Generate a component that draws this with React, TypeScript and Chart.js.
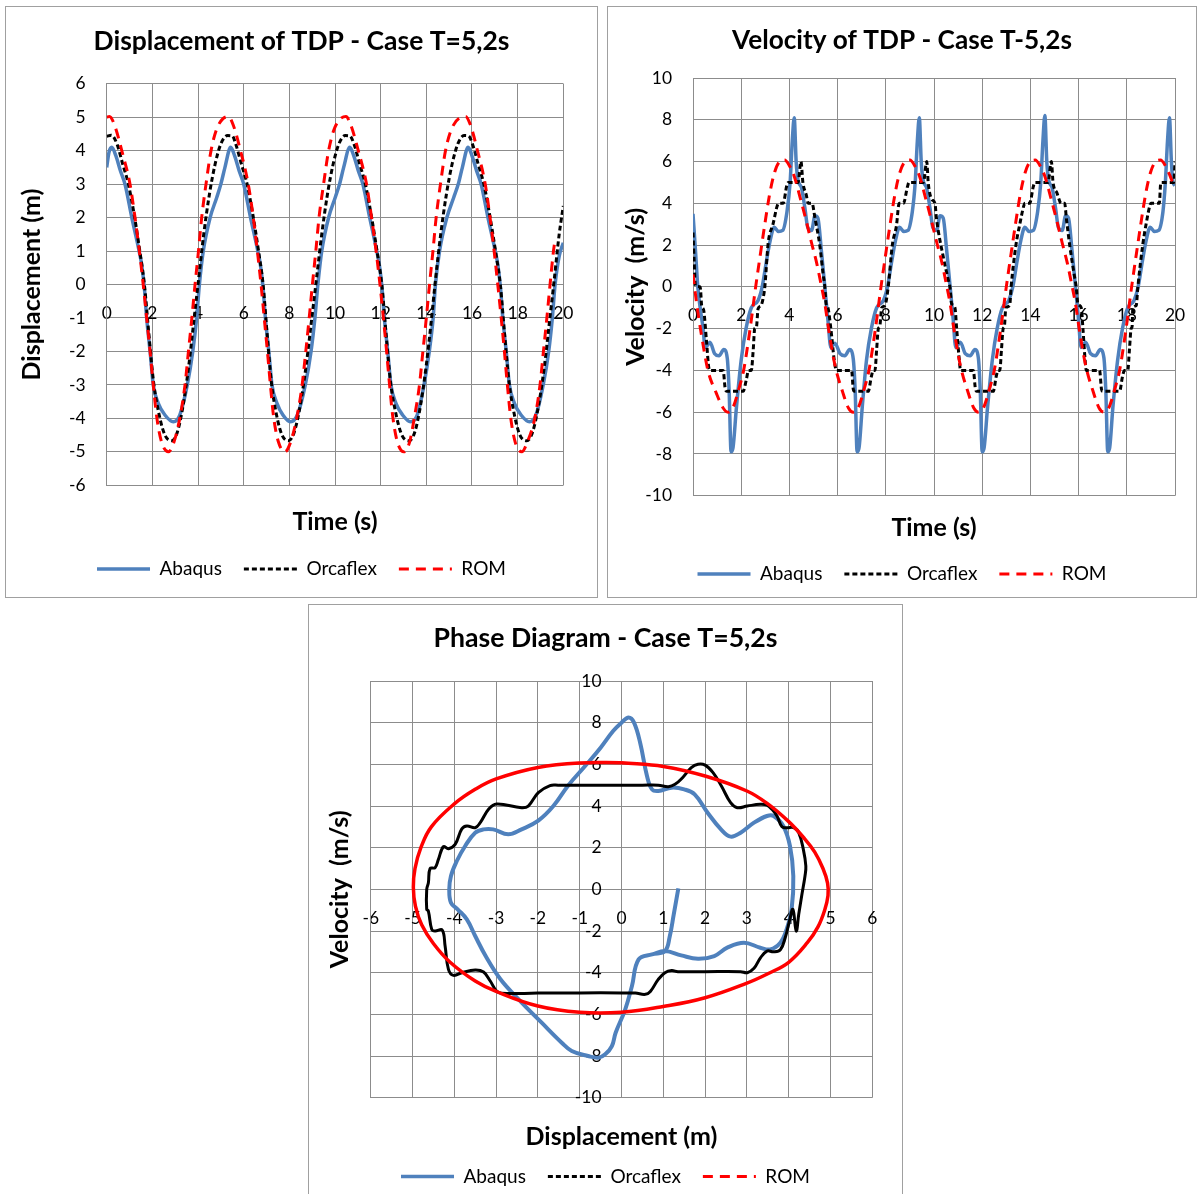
import React, { useEffect, useRef } from "react";
import { Chart, registerables } from "chart.js";

Chart.register(...registerables);

type Pt = [number, number];

// ---------------- tick labels / categories ----------------
const TIME_TICKS = [0, 2, 4, 6, 8, 10, 12, 14, 16, 18, 20];
const DISP_TICKS = [-6, -5, -4, -3, -2, -1, 0, 1, 2, 3, 4, 5, 6];
const VEL_TICKS = [-10, -8, -6, -4, -2, 0, 2, 4, 6, 8, 10];
const PHASE_DISP_TICKS = [-6, -5, -4, -3, -2, -1, 0, 1, 2, 3, 4, 5, 6];
const SERIES = ["Abaqus", "Orcaflex", "ROM"];

// ---------------- displacement of TDP (time s, displacement m) ----------------
const ABAQUS_DISP: Pt[] = [
  [0, 3.5], [0.1, 3.95], [0.22, 4.1], [0.4, 3.85], [0.6, 3.4], [0.8, 3.0], [1.1, 2.0], [1.42, 1.0], [1.53, 0.6],
  [1.65, -0.1], [1.75, -1.0], [1.9, -2.0], [2.04, -3.0], [2.26, -3.55], [2.55, -3.9], [2.92, -4.1], [3.2, -3.9],
  [3.53, -3.0], [3.77, -2.0], [3.94, -1.0], [4.06, 0.0], [4.23, 1.0], [4.53, 2.0], [4.82, 2.6], [5.0, 3.0],
  [5.18, 3.5], [5.43, 4.1],
  [5.6, 3.85], [5.8, 3.4], [6.0, 3.0], [6.3, 2.0], [6.62, 1.0], [6.73, 0.6], [6.85, -0.1], [6.95, -1.0],
  [7.1, -2.0], [7.24, -3.0], [7.46, -3.55], [7.72, -3.9], [8.05, -4.1], [8.35, -3.9], [8.7, -3.0], [8.95, -2.0],
  [9.12, -1.0], [9.25, 0.0], [9.42, 1.0], [9.72, 2.0], [10.01, 2.6], [10.2, 3.0], [10.38, 3.5], [10.65, 4.1],
  [10.82, 3.85], [11.02, 3.4], [11.22, 3.0], [11.52, 2.0], [11.83, 1.0], [11.94, 0.6], [12.06, -0.1], [12.16, -1.0],
  [12.31, -2.0], [12.45, -3.0], [12.67, -3.55], [12.96, -3.9], [13.31, -4.1], [13.6, -3.9], [13.9, -3.0],
  [14.13, -2.0], [14.3, -1.0], [14.4, 0.0], [14.58, 1.0], [14.9, 2.0], [15.2, 2.6], [15.4, 3.0], [15.58, 3.5],
  [15.83, 4.1],
  [16.0, 3.85], [16.2, 3.4], [16.4, 3.0], [16.7, 2.0], [17.02, 1.0], [17.13, 0.6], [17.25, -0.1], [17.35, -1.0],
  [17.5, -2.0], [17.64, -3.0], [17.86, -3.55], [18.15, -3.9], [18.52, -4.1], [18.8, -3.9], [19.12, -3.0],
  [19.36, -2.0], [19.52, -1.0], [19.64, 0.0], [19.82, 0.85], [20.0, 1.25],
];

const ORCAFLEX_DISP: Pt[] = [
  [0, 4.43], [0.2, 4.46], [0.45, 4.2], [0.7, 3.6], [0.95, 3.0], [1.2, 2.1], [1.45, 1.0], [1.65, 0.0], [1.85, -1.5],
  [2.05, -2.9], [2.3, -3.9], [2.55, -4.5], [2.85, -4.67], [3.1, -4.4], [3.35, -3.6], [3.6, -2.4], [3.8, -1.2],
  [4.0, 0.0], [4.25, 1.5], [4.5, 2.7], [4.75, 3.6], [5.0, 4.2], [5.3, 4.45], [5.5, 4.44],
  [5.65, 4.2], [5.9, 3.6], [6.15, 3.0], [6.4, 2.1], [6.65, 1.0], [6.85, 0.0], [7.03, -1.5], [7.21, -2.9],
  [7.44, -3.9], [7.68, -4.5], [7.96, -4.67], [8.22, -4.4], [8.48, -3.6], [8.74, -2.4], [8.95, -1.2], [9.16, 0.0],
  [9.42, 1.5], [9.67, 2.7], [9.92, 3.6], [10.17, 4.2], [10.45, 4.45], [10.65, 4.44],
  [10.83, 4.2], [11.08, 3.6], [11.33, 3.0], [11.58, 2.1], [11.84, 1.0], [12.05, 0.0], [12.24, -1.5], [12.43, -2.9],
  [12.68, -3.9], [12.93, -4.5], [13.24, -4.67], [13.5, -4.4], [13.75, -3.6], [14.0, -2.4], [14.2, -1.2],
  [14.38, 0.0], [14.63, 1.5], [14.88, 2.7], [15.13, 3.6], [15.38, 4.2], [15.65, 4.45], [15.85, 4.44],
  [16.02, 4.2], [16.27, 3.6], [16.52, 3.0], [16.77, 2.1], [17.03, 1.0], [17.24, 0.0], [17.43, -1.5], [17.62, -2.9],
  [17.86, -3.9], [18.1, -4.5], [18.4, -4.67], [18.66, -4.4], [18.92, -3.6], [19.18, -2.4], [19.38, -1.2],
  [19.58, 0.0], [19.82, 1.5], [20.0, 2.35],
];

const ROM_DISP: Pt[] = [
  [0, 5.0], [0.12, 5.02], [0.35, 4.75], [0.66, 4.0], [1.02, 3.0], [1.24, 2.0], [1.43, 1.0], [1.6, 0.0], [1.75, -1.0],
  [1.9, -2.0], [2.04, -3.0], [2.2, -4.0], [2.4, -4.7], [2.7, -5.0], [2.95, -4.7], [3.2, -4.0], [3.43, -3.0],
  [3.58, -2.0], [3.73, -1.0], [3.87, 0.0], [4.02, 1.0], [4.16, 2.0], [4.35, 3.0], [4.57, 4.0], [4.85, 4.7],
  [5.33, 5.02],
  [5.55, 4.75], [5.86, 4.0], [6.2, 3.0], [6.42, 2.0], [6.6, 1.0], [6.76, 0.0], [6.9, -1.0], [7.04, -2.0],
  [7.17, -3.0], [7.32, -4.0], [7.52, -4.7], [7.81, -5.0], [8.06, -4.7], [8.32, -4.0], [8.56, -3.0], [8.72, -2.0],
  [8.87, -1.0], [9.01, 0.0], [9.16, 1.0], [9.3, 2.0], [9.5, 3.0], [9.72, 4.0], [10.0, 4.7], [10.48, 5.02],
  [10.7, 4.75], [11.02, 4.0], [11.38, 3.0], [11.6, 2.0], [11.8, 1.0], [11.97, 0.0], [12.12, -1.0], [12.26, -2.0],
  [12.39, -3.0], [12.54, -4.0], [12.73, -4.7], [13.02, -5.0], [13.27, -4.7], [13.47, -4.0], [13.7, -3.0],
  [13.85, -2.0], [14.0, -1.0], [14.14, 0.0], [14.29, 1.0], [14.43, 2.0], [14.62, 3.0], [14.84, 4.0], [15.14, 4.7],
  [15.72, 5.02],
  [15.94, 4.75], [16.24, 4.0], [16.58, 3.0], [16.79, 2.0], [16.97, 1.0], [17.13, 0.0], [17.28, -1.0], [17.42, -2.0],
  [17.55, -3.0], [17.7, -4.0], [17.89, -4.7], [18.18, -5.0], [18.43, -4.7], [18.75, -4.0], [18.98, -3.0],
  [19.13, -2.0], [19.28, -1.0], [19.42, 0.0], [19.57, 1.0], [19.62, 1.25],
];

// ---------------- velocity of TDP (time s, velocity m/s) ----------------
const ABAQUS_VEL: Pt[] = [
  [0, 3.5], [0.1, 1.8], [0.2, 0.0], [0.32, -1.2], [0.42, -2.0], [0.5, -2.9], [0.6, -2.8], [0.7, -2.65], [0.9, -3.2],
  [1.08, -3.3], [1.28, -3.0], [1.42, -3.4], [1.5, -5.0], [1.58, -7.9], [1.66, -7.7], [1.8, -5.8], [2.0, -3.5],
  [2.2, -2.0], [2.42, -1.0], [2.7, -0.65], [2.87, 0.0], [3.05, 1.25], [3.2, 2.2], [3.37, 2.85], [3.55, 2.65],
  [3.72, 2.7], [3.9, 3.6], [4.03, 5.0], [4.12, 7.0], [4.2, 8.1], [4.28, 6.0], [4.36, 5.1], [4.5, 4.75],
  [4.64, 3.8], [4.76, 2.85], [4.92, 2.7], [5.06, 3.4], [5.18, 3.3], [5.33, 1.7], [5.47, 0.0], [5.6, -1.6],
  [5.72, -2.9], [5.89, -2.7], [6.1, -3.2], [6.3, -3.3], [6.5, -3.0], [6.65, -3.45], [6.73, -5.0], [6.81, -7.9],
  [6.89, -7.7], [7.02, -5.8], [7.2, -3.5], [7.4, -2.0], [7.62, -1.0], [7.9, -0.65], [8.07, 0.0], [8.25, 1.25],
  [8.4, 2.2], [8.57, 2.85], [8.75, 2.65], [8.92, 2.7], [9.1, 3.6], [9.22, 5.0], [9.31, 7.0], [9.39, 8.1],
  [9.47, 6.0], [9.55, 5.1], [9.69, 4.75], [9.83, 3.8], [9.95, 2.85], [10.11, 2.7], [10.25, 3.4], [10.38, 3.3],
  [10.53, 1.7], [10.67, 0.0], [10.8, -1.6], [10.9, -2.9], [11.09, -2.65], [11.3, -3.2], [11.5, -3.3], [11.7, -3.0],
  [11.84, -3.4], [11.92, -5.0], [12.0, -7.9], [12.08, -7.7], [12.22, -5.8], [12.42, -3.5], [12.62, -2.0],
  [12.84, -1.0], [13.1, -0.65], [13.27, 0.0], [13.45, 1.25], [13.6, 2.2], [13.77, 2.85], [13.95, 2.65],
  [14.12, 2.7], [14.3, 3.6], [14.43, 5.0], [14.52, 7.0], [14.6, 8.2], [14.68, 6.0], [14.76, 5.1], [14.9, 4.75],
  [15.04, 3.8], [15.16, 2.85], [15.32, 2.7], [15.46, 3.4], [15.58, 3.3], [15.73, 1.7], [15.87, 0.0], [16.0, -1.6],
  [16.1, -2.9], [16.29, -2.65], [16.5, -3.2], [16.7, -3.3], [16.9, -3.0], [17.05, -3.4], [17.13, -5.0],
  [17.21, -7.9], [17.29, -7.7], [17.42, -5.8], [17.62, -3.5], [17.82, -2.0], [18.04, -1.0], [18.3, -0.65],
  [18.47, 0.0], [18.65, 1.25], [18.8, 2.2], [18.97, 2.85], [19.15, 2.65], [19.32, 2.7], [19.5, 3.6], [19.6, 5.0],
  [19.69, 7.0], [19.77, 8.1], [19.85, 6.0], [19.92, 5.0], [20.0, 4.85],
];

const ORCAFLEX_VEL: Pt[] = [
  [0, 2.6], [0.05, 1.2], [0.1, 0.05], [0.3, 0.0], [0.36, -0.9], [0.44, -1.1], [0.56, -2.6], [0.66, -3.9],
  [0.72, -4.0], [1.25, -4.0], [1.34, -4.9], [1.4, -5.0], [2.08, -5.0], [2.22, -4.4], [2.3, -4.0], [2.42, -4.0],
  [2.5, -3.0], [2.56, -2.0], [2.63, -1.95], [2.7, -1.05], [2.82, -0.9], [2.9, -0.6], [2.98, 0.0], [3.12, 2.1],
  [3.32, 3.0], [3.5, 3.9], [3.56, 4.0], [3.74, 4.0], [3.9, 4.9], [3.96, 5.0], [4.36, 5.0], [4.48, 6.0],
  [4.56, 5.0], [4.7, 4.4], [4.78, 4.0], [4.94, 4.0], [5.06, 3.3], [5.26, 2.0], [5.4, 0.6], [5.47, 0.0],
  [5.52, -0.8], [5.6, -1.0], [5.72, -2.0], [5.86, -3.5], [5.95, -4.0], [6.58, -4.0], [6.65, -4.9], [6.7, -5.0],
  [7.27, -5.0], [7.4, -4.3], [7.48, -4.0], [7.55, -4.0], [7.62, -3.0], [7.69, -2.0], [7.75, -1.9], [7.83, -1.0],
  [7.96, -0.9], [8.1, 0.0], [8.27, 2.0], [8.45, 3.0], [8.53, 3.9], [8.57, 4.0], [8.73, 4.0], [8.9, 4.8],
  [8.96, 5.0], [9.56, 5.0], [9.7, 6.0], [9.76, 5.0], [9.9, 4.2], [10.04, 4.0], [10.1, 3.3], [10.39, 1.4],
  [10.6, 0.3], [10.66, 0.0], [10.73, -0.8], [10.87, -1.0], [10.94, -2.0], [11.05, -3.5], [11.1, -4.0],
  [11.63, -4.0], [11.72, -4.9], [11.77, -5.0], [12.46, -5.0], [12.58, -4.3], [12.66, -4.0], [12.73, -4.0],
  [12.8, -3.0], [12.87, -2.0], [12.92, -1.9], [12.98, -1.0], [13.14, -0.9], [13.2, 0.0], [13.4, 2.0],
  [13.56, 3.0], [13.73, 3.9], [13.77, 4.0], [13.97, 4.0], [14.12, 4.8], [14.18, 5.0], [14.73, 5.0], [14.87, 6.0],
  [14.94, 5.0], [15.1, 4.5], [15.28, 4.0], [15.42, 4.0], [15.5, 3.2], [15.63, 2.0], [15.8, 0.7], [15.9, 0.0],
  [15.97, -0.8], [16.11, -1.0], [16.18, -2.0], [16.27, -3.5], [16.32, -4.0], [16.87, -4.0], [16.95, -4.9],
  [17.0, -5.0], [17.7, -5.0], [17.82, -4.3], [17.9, -4.0], [18.04, -4.0], [18.11, -3.0], [18.18, -2.0],
  [18.22, -1.9], [18.25, -1.0], [18.39, -0.9], [18.46, 0.0], [18.66, 2.0], [18.8, 3.0], [18.96, 3.9], [19.0, 4.0],
  [19.35, 4.0], [19.4, 4.9], [19.42, 5.0], [19.95, 5.0], [20.0, 6.0],
];

const ROM_VEL: Pt[] = [
  [0, 0.6], [0.14, -0.7], [0.35, -2.3], [0.62, -4.0], [0.97, -5.1], [1.25, -5.8], [1.45, -6.0], [1.65, -5.8],
  [1.9, -4.9], [2.1, -4.0], [2.37, -2.0], [2.6, 0.0], [2.8, 1.6], [2.98, 3.0], [3.19, 4.5], [3.39, 5.5],
  [3.6, 6.0], [3.8, 6.07], [4.0, 5.8], [4.2, 5.3], [4.44, 4.3], [4.72, 3.05], [4.92, 2.1], [5.13, 1.15],
  [5.3, 0.2], [5.47, -0.8], [5.65, -2.2], [5.9, -3.8], [6.2, -5.0], [6.45, -5.8], [6.65, -6.0], [6.85, -5.8],
  [7.1, -4.9], [7.3, -4.0], [7.57, -2.0], [7.8, 0.0], [8.0, 1.6], [8.18, 3.0], [8.39, 4.5], [8.59, 5.5],
  [8.8, 6.0], [9.0, 6.07], [9.2, 5.8], [9.4, 5.3], [9.64, 4.3], [9.92, 3.05], [10.12, 2.1], [10.33, 1.15],
  [10.5, 0.2], [10.67, -0.8], [10.85, -2.2], [11.1, -3.8], [11.4, -5.0], [11.65, -5.8], [11.85, -6.0],
  [12.05, -5.8], [12.3, -4.9], [12.5, -4.0], [12.77, -2.0], [13.0, 0.0], [13.2, 1.6], [13.38, 3.0], [13.59, 4.5],
  [13.79, 5.5], [14.0, 6.0], [14.2, 6.07], [14.4, 5.8], [14.6, 5.3], [14.84, 4.3], [15.12, 3.05], [15.32, 2.1],
  [15.53, 1.15], [15.7, 0.2], [15.87, -0.8], [16.05, -2.2], [16.3, -3.8], [16.6, -5.0], [16.85, -5.8],
  [17.05, -6.0], [17.25, -5.8], [17.5, -4.9], [17.7, -4.0], [17.97, -2.0], [18.2, 0.0], [18.4, 1.6], [18.58, 3.0],
  [18.79, 4.5], [18.99, 5.5], [19.2, 6.0], [19.4, 6.07], [19.6, 5.8], [19.8, 5.3], [19.9, 5.0],
];

// ---------------- phase diagram (displacement m, velocity m/s) ----------------
const ABAQUS_PHASE: Pt[] = [
  [1.36, 0.05], [1.25, -1.2], [1.15, -2.3], [1.04, -2.96], [0.73, -3.12], [0.41, -3.36], [0.25, -4.64],
  [0.09, -5.76], [-0.14, -6.88], [-0.23, -7.52], [-0.39, -7.92], [-0.55, -8.08], [-0.8, -8.0], [-1.19, -7.76],
  [-1.43, -7.36], [-1.91, -6.4], [-2.45, -5.3], [-2.9, -4.3], [-3.25, -3.2], [-3.5, -2.24], [-3.7, -1.44],
  [-3.92, -0.96], [-4.08, -0.64], [-4.12, 0.0], [-4.08, 0.64], [-3.94, 1.36], [-3.74, 2.08], [-3.5, 2.72],
  [-3.3, 2.88], [-3.07, 2.88], [-2.71, 2.64], [-2.39, 2.88], [-1.99, 3.3], [-1.63, 4.0], [-1.27, 5.0],
  [-0.87, 5.92], [-0.5, 6.8], [-0.2, 7.6], [0.0, 8.0], [0.17, 8.25], [0.3, 8.0], [0.45, 7.0], [0.61, 5.44],
  [0.73, 4.8], [0.88, 4.72], [1.2, 4.88], [1.5, 4.8], [1.75, 4.56], [2.06, 3.68], [2.38, 2.88], [2.61, 2.53],
  [2.85, 2.72], [3.17, 3.2], [3.48, 3.52], [3.64, 3.52], [3.87, 3.04], [4.03, 2.08], [4.11, 0.64], [4.07, -0.96],
  [3.95, -1.92], [3.8, -2.56], [3.56, -2.88], [3.32, -2.8], [2.93, -2.56], [2.53, -2.8], [2.22, -3.2],
  [1.83, -3.33], [1.43, -3.17], [1.04, -2.96], [0.73, -3.12],
];

const ORCAFLEX_PHASE: Pt[] = [
  [-1.5, 5.0], [-0.5, 5.0], [0.5, 5.0], [0.88, 5.0], [1.12, 4.93], [1.28, 5.04], [1.46, 5.36], [1.67, 5.84],
  [1.83, 6.0], [2.0, 5.96], [2.19, 5.6], [2.39, 4.96], [2.61, 4.16], [2.77, 3.92], [3.01, 4.0], [3.32, 4.08],
  [3.48, 4.04], [3.6, 3.84], [3.72, 3.52], [3.84, 3.0], [3.96, 2.96], [4.12, 2.96], [4.24, 2.72], [4.35, 1.92],
  [4.41, 1.12], [4.39, 0.64], [4.31, -0.32], [4.24, -1.2], [4.18, -2.0], [4.1, -0.96], [4.02, -1.5],
  [3.92, -2.3], [3.8, -2.9], [3.64, -3.0], [3.48, -2.96], [3.32, -3.3], [3.17, -3.79], [3.01, -4.0],
  [2.85, -3.95], [2.0, -3.95], [1.35, -3.95], [1.2, -3.9], [1.04, -4.0], [0.88, -4.32], [0.69, -4.9],
  [0.57, -5.04], [0.33, -4.98], [0.0, -4.97], [-1.0, -4.97], [-2.0, -4.98], [-2.87, -4.99], [-2.99, -4.88],
  [-3.14, -4.4], [-3.3, -3.97], [-3.5, -3.87], [-3.82, -4.0], [-4.02, -4.13], [-4.14, -3.84], [-4.22, -2.72],
  [-4.29, -1.95], [-4.46, -2.0], [-4.54, -1.92], [-4.62, -1.04], [-4.66, -0.96], [-4.66, 0.0], [-4.62, 0.32],
  [-4.58, 1.0], [-4.46, 1.04], [-4.38, 1.44], [-4.26, 2.05], [-4.14, 1.95], [-3.98, 2.16], [-3.82, 2.9],
  [-3.7, 3.04], [-3.5, 2.96], [-3.38, 3.2], [-3.18, 3.84], [-2.99, 4.1], [-2.39, 3.92], [-2.23, 4.0],
  [-1.99, 4.64], [-1.71, 4.98], [-1.5, 5.0],
];

const ROM_PHASE: Pt[] = [
  [0.0, 6.08], [1.0, 5.9], [2.0, 5.44], [3.0, 4.72], [3.5, 4.1], [4.0, 3.25], [4.35, 2.5], [4.62, 1.8],
  [4.82, 1.0], [4.93, 0.3], [4.94, -0.3], [4.86, -1.0], [4.7, -1.8], [4.45, -2.55], [4.0, -3.5], [3.5, -4.05],
  [3.0, -4.5], [2.0, -5.2], [1.0, -5.62], [0.0, -5.9], [-1.0, -5.9], [-2.0, -5.6], [-3.0, -4.9], [-3.5, -4.4],
  [-4.1, -3.5], [-4.5, -2.6], [-4.78, -1.7], [-4.93, -0.8], [-4.98, 0.1], [-4.94, 1.0], [-4.8, 2.0],
  [-4.55, 3.0], [-4.0, 4.1], [-3.5, 4.8], [-3.0, 5.3], [-2.0, 5.85], [-1.0, 6.07], [0.0, 6.08],
];

// ---------------- styles ----------------
const FONT = "Lato, 'Open Sans', 'DejaVu Sans', sans-serif";
const BLUE = "#4f81bd";
const RED = "#ff0000";
const BLACK = "#000000";
const GRID = "#8c8c8c";
const PANEL_BORDER = "#a0a0a0";
const LEG_PAD = 22;

Chart.defaults.font.family = FONT;

interface Geo {
  W: number; H: number; l: number; r: number; t: number; b: number;
  titleY: number; xTitleY: number; legendY: number; yTitleX: number;
}
interface Box { left: number; top: number; w: number; h: number; }

function textW(text: string, bold: boolean): number {
  const c = document.createElement("canvas").getContext("2d")!;
  c.font = `${bold ? "bold " : ""}100px ${FONT}`;
  return c.measureText(text).width / 100;
}

function fonts(title: string, titleWidth: number) {
  return {
    title: titleWidth / textW(title, true),
    axis: 192 / textW("Displacement (m)", true),
    tick: 26.7 / textW("-10", false),
    legend: 70.5 / textW("Orcaflex", false),
  };
}

const toXY = (pts: Pt[]) => pts.map(([x, y]) => ({ x, y }));

interface Spec {
  geo: Geo; title: string; titleWidth: number; xTitle: string; yTitle: string;
  xRange: [number, number]; xTicks: number[]; yRange: [number, number]; yTicks: number[];
  data: [Pt[], Pt[], Pt[]]; phase: boolean;
}

function makeChart(canvas: HTMLCanvasElement, spec: Spec): Chart {
  const g = spec.geo;
  const f = fonts(spec.title, spec.titleWidth);
  const titleLH = f.title * 1.2;
  const axisLH = f.axis * 1.2;
  const legendTop = g.legendY - LEG_PAD - f.legend / 2;
  const legendH = f.legend + LEG_PAD + 10;
  const padBottom = g.H - legendTop - legendH;
  const xTickPad = 29 - f.tick * 0.6;
  const zeroPad = (s: any) => { s.paddingLeft = 0; s.paddingRight = 0; s.paddingTop = 0; s.paddingBottom = 0; };
  const setTicks = (vals: number[]) => (s: any) => { s.ticks = vals.map((v) => ({ value: v })); };
  const tickFont = { family: FONT, size: f.tick };
  const axisFont = { family: FONT, size: f.axis, weight: "bold" as const };
  const grid = { color: GRID, lineWidth: 1, drawTicks: false };
  const border = { color: GRID, width: 1 };

  const widths = spec.phase ? [4, 3, 3.5] : [3.5, 3, 3];
  const dashes = [[], [5, 3], [10, 7]];
  const colors = [BLUE, BLACK, RED];
  const datasets = spec.data.map((pts, i) => ({
    label: SERIES[i],
    data: toXY(pts),
    showLine: true,
    borderColor: colors[i],
    backgroundColor: colors[i],
    borderWidth: widths[i],
    borderDash: spec.phase ? [] : dashes[i],
    pointRadius: 0,
    pointHoverRadius: 0,
    fill: false,
    order: 3 - i,
    ...(spec.phase ? { tension: 0.4 } : { cubicInterpolationMode: "monotone" as const }),
  }));

  const phaseYLabels = {
    id: "phaseYLabels",
    beforeDatasetsDraw(chart: any) {
      if (!spec.phase) return;
      const { ctx, scales } = chart;
      const x0 = scales.x.getPixelForValue(0) - 20;
      ctx.save();
      ctx.font = `${f.tick}px ${FONT}`;
      ctx.fillStyle = "#000";
      ctx.textAlign = "right";
      ctx.textBaseline = "middle";
      for (const v of spec.yTicks) ctx.fillText(String(v), x0, scales.y.getPixelForValue(v));
      ctx.restore();
    },
  };

  return new Chart(canvas, {
    type: "scatter",
    data: { datasets: datasets as any },
    plugins: [phaseYLabels],
    options: {
      responsive: false,
      animation: false,
      devicePixelRatio: 1,
      events: [],
      layout: { padding: { top: 0, left: 0, right: 0, bottom: padBottom } },
      scales: {
        x: {
          type: "linear", min: spec.xRange[0], max: spec.xRange[1], position: { y: 0 } as any,
          afterBuildTicks: setTicks(spec.xTicks), afterFit: zeroPad,
          grid, border,
          ticks: { font: tickFont, color: "#000", padding: xTickPad, autoSkip: false, maxRotation: 0, callback: (v: any) => String(v) },
        },
        y: {
          type: "linear", min: spec.yRange[0], max: spec.yRange[1], position: "left",
          afterBuildTicks: setTicks(spec.yTicks),
          afterFit: (s: any) => { zeroPad(s); s.width = g.l; },
          grid, border,
          ticks: { display: !spec.phase, font: tickFont, color: "#000", padding: 21, autoSkip: false, callback: (v: any) => String(v) },
          title: { display: true, text: spec.yTitle, color: "#000", font: axisFont, padding: { top: g.yTitleX - axisLH / 2, bottom: 0 } },
        },
        xB: {
          type: "linear", min: 0, max: 1, position: "bottom",
          grid: { display: false, drawTicks: false }, border: { display: false }, ticks: { display: false },
          afterFit: (s: any) => { zeroPad(s); s.height = legendTop - g.b; },
          title: { display: true, text: spec.xTitle, color: "#000", font: axisFont, padding: { top: 0, bottom: legendTop - g.xTitleY - axisLH / 2 } },
        },
        yR: {
          type: "linear", min: 0, max: 1, position: "right",
          grid: { display: false, drawTicks: false }, border: { display: false }, ticks: { display: false },
          afterFit: (s: any) => { zeroPad(s); s.width = g.W - g.r; },
        },
      } as any,
      plugins: {
        tooltip: { enabled: false },
        title: {
          display: true, text: spec.title, color: "#000",
          font: { family: FONT, size: f.title, weight: "bold" },
          padding: { top: g.titleY - titleLH / 2, bottom: g.t - g.titleY - titleLH / 2 },
        },
        legend: {
          display: true, position: "bottom",
          labels: {
            usePointStyle: true, pointStyle: "line", pointStyleWidth: 53,
            font: { family: FONT, size: f.legend }, color: "#000", padding: LEG_PAD,
            sort: (a: any, b: any) => a.datasetIndex - b.datasetIndex,
            generateLabels: (chart: any) => {
              const items = (Chart.defaults.plugins.legend.labels as any).generateLabels(chart);
              return items.map((it: any) => ({
                ...it,
                lineDash: dashes[it.datasetIndex],
                lineWidth: it.datasetIndex === 0 ? 3.5 : 3,
              }));
            },
          },
        },
      },
    },
  });
}

// ---------------- layout ----------------
const BOX1: Box = { left: 5, top: 6, w: 593, h: 592 };
const BOX2: Box = { left: 607, top: 6, w: 590, h: 592 };
const BOX3: Box = { left: 308, top: 604, w: 595, h: 600 };

const SPEC1: Spec = {
  geo: { W: 591, H: 590, l: 100.7, r: 557.3, t: 76.7, b: 478.3, titleY: 34, xTitleY: 515, legendY: 562, yTitleX: 26 },
  title: "Displacement of TDP - Case T=5,2s", titleWidth: 416, xTitle: "Time (s)", yTitle: "Displacement (m)",
  xRange: [0, 20], xTicks: TIME_TICKS, yRange: [-6, 6], yTicks: DISP_TICKS,
  data: [ABAQUS_DISP, ORCAFLEX_DISP, ROM_DISP], phase: false,
};
const SPEC2: Spec = {
  geo: { W: 588, H: 590, l: 85, r: 567, t: 71, b: 488.7, titleY: 34, xTitleY: 520.7, legendY: 567, yTitleX: 28 },
  title: "Velocity of TDP - Case T-5,2s", titleWidth: 340, xTitle: "Time (s)", yTitle: "Velocity  (m/s)",
  xRange: [0, 20], xTicks: TIME_TICKS, yRange: [-10, 10], yTicks: VEL_TICKS,
  data: [ABAQUS_VEL, ORCAFLEX_VEL, ROM_VEL], phase: false,
};
const SPEC3: Spec = {
  geo: { W: 593, H: 598, l: 61.7, r: 563.3, t: 76, b: 492.7, titleY: 33, xTitleY: 532, legendY: 571.6, yTitleX: 30.5 },
  title: "Phase Diagram - Case T=5,2s", titleWidth: 344, xTitle: "Displacement (m)", yTitle: "Velocity  (m/s)",
  xRange: [-6, 6], xTicks: PHASE_DISP_TICKS, yRange: [-10, 10], yTicks: VEL_TICKS,
  data: [ABAQUS_PHASE, ORCAFLEX_PHASE, ROM_PHASE], phase: true,
};

function Panel({ box, spec }: { box: Box; spec: Spec }) {
  const ref = useRef<HTMLCanvasElement | null>(null);
  useEffect(() => {
    if (!ref.current) return;
    const chart = makeChart(ref.current, spec);
    return () => chart.destroy();
  }, [spec]);
  const cw = box.w - 2;
  const chh = box.h - 2;
  return (
    <div
      style={{
        position: "absolute", left: box.left, top: box.top, width: box.w, height: box.h,
        border: `1px solid ${PANEL_BORDER}`, boxSizing: "border-box", background: "#fff",
      }}
    >
      <canvas ref={ref} width={cw} height={chh} style={{ display: "block", width: cw, height: chh }} />
    </div>
  );
}

export default function App() {
  return (
    <div style={{ position: "fixed", left: 0, top: 0, width: 1197, height: 1194, overflow: "hidden", background: "#fff" }}>
      <Panel box={BOX1} spec={SPEC1} />
      <Panel box={BOX2} spec={SPEC2} />
      <Panel box={BOX3} spec={SPEC3} />
    </div>
  );
}
